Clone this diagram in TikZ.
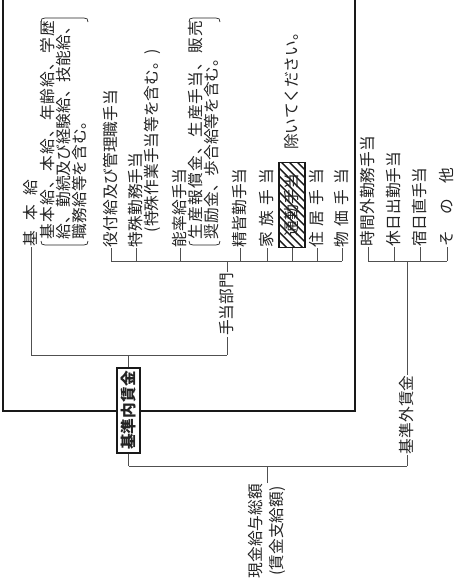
\documentclass[tikz,border=0pt]{standalone}
\usepackage{fontspec}
\setmainfont{Noto Sans CJK JP}
\newfontfamily\jpwide[LetterSpace=7.5]{Noto Sans CJK JP}
\usepackage{tikz}
\usetikzlibrary{calc}
\definecolor{wgLine}{RGB}{80,80,80}
\definecolor{wgText}{RGB}{35,35,35}
\definecolor{wgFrame}{RGB}{25,25,25}
\newcommand{\wgfont}{\fontsize{13.4pt}{16pt}\selectfont}

\begin{document}
\begin{tikzpicture}[x=0.03cm,y=-0.03cm,
  every node/.style={font=\wgfont, text=wgText, inner sep=0.6pt},
  item/.style={rotate=90, anchor=west},
  link/.style={wgLine, line width=0.7pt},
  paren/.style={wgText, line width=0.6pt}]
\useasboundingbox (0,0) rectangle (462,586);
\draw[wgFrame, line width=1.8pt] (3,-5) |- (355,411) -- (355,-5);
\coordinate (busIn) at (0,355);
\coordinate (busTe) at (0,261);
\coordinate (busOut) at (0,261);
\coordinate (busAll) at (0,466);

\node[item] (kihon) at (31,247) {基\hspace{0.62em}本\hspace{0.62em}給};
\node[item] (kihonA) at (48,240) {\jpwide 基本給、本給、年齢給、学歴};
\node[item] (kihonB) at (64,240) {給、勤続及び経験給、技能給、};
\node[item] (kihonC) at (80,240) {職務給等を含む。};
\draw[paren] (41,241) .. controls (41,244) and (42,245) .. (45,245) -- (84,245) .. controls (87,245) and (88,244) .. (88,241);
\draw[paren] (41,22) .. controls (41,19) and (42,18) .. (45,18) -- (84,18) .. controls (87,18) and (88,19) .. (88,22);

\node[item] (yaku) at (111,248) {役付給及び管理職手当};
\node[item] (toku) at (136,248) {特殊勤務手当};
\node[item] (tokuA) at (152,233) {(特殊作業手当等を含む。)};
\node[item] (nori) at (180,248) {能率給手当};
\node[item] (noriA) at (196,240) {\jpwide 生産報償金、生産手当、販売};
\node[item] (noriB) at (212,240) {奨励金、歩合給等を含む。};
\draw[paren] (189,241) .. controls (189,244) and (190,245) .. (193,245) -- (216,245) .. controls (219,245) and (220,244) .. (220,241);
\draw[paren] (189,22) .. controls (189,19) and (190,18) .. (193,18) -- (216,18) .. controls (219,18) and (220,19) .. (220,22);
\node[item] (seikai) at (240,248) {精皆勤手当};
\node[item] (kazoku) at (267,248) {家\hspace{.33em}族\hspace{.33em}手\hspace{.33em}当};
\node[item, draw=wgFrame, line width=1.1pt, minimum width=2.55cm, minimum height=0.78cm,
  path picture={\foreach \k in {-7,...,7}
    \draw[wgFrame, line width=1.3pt] ($(path picture bounding box.center)+(\k*8-40,40)$) -- ++(80,-80);}]
  (tsukin) at (292,248) {通勤手当};
\node[item] (nozoku) at ($(tsukin.east)+(0,-11)$) {除いてください。};
\node[item] (jukyo) at (317,248) {住\hspace{.33em}居\hspace{.33em}手\hspace{.33em}当};
\node[item] (bukka) at (342,248) {物\hspace{.33em}価\hspace{.33em}手\hspace{.33em}当};
\foreach \n in {yaku,toku,nori,seikai,kazoku,tsukin,jukyo,bukka}
  \draw[link] (\n.west) -- (\n.west |- busTe);
\draw[link] (yaku.west |- busTe) -- (bukka.west |- busTe);

\node[item, anchor=center] (teate) at (227,304.5) {手当部門};
\draw[link] (teate.east) -- (teate.east |- busTe);
\draw[link] (teate.west) -- (teate.west |- busIn);
\draw[link] (kihon.west) -- (kihon.west |- busIn) -- (teate.west |- busIn);

\node[item, anchor=center, draw=wgFrame, line width=0.9pt, fill=white, font=\wgfont\bfseries,
  minimum width=2.55cm, minimum height=0.69cm] (naikin) at (128.5,410.5) {基準内賃金};
\draw[link] (naikin.east) -- (naikin.east |- busIn);
\draw[link] (naikin.west) -- (naikin.west |- busAll);

\node[item] (jikan) at (368,247) {時間外勤務手当};
\node[item] (kyujitsu) at (394,247) {休日出勤手当};
\node[item] (shuku) at (420,247) {宿日直手当};
\node[item] (sonota) at (447,247) {そ\hspace{1em}の\hspace{1em}他};
\foreach \n in {jikan,kyujitsu,shuku,sonota}
  \draw[link] (\n.west) -- (\n.west |- busOut);
\draw[link] (jikan.west |- busOut) -- (sonota.west |- busOut);

\node[item] (gaikin) at (407,455) {基準外賃金};
\draw[link] (gaikin.east) -- (gaikin.east |- busOut);
\draw[link] (gaikin.west) -- (gaikin.west |- busAll);
\draw[link] (naikin.west |- busAll) -- (gaikin.west |- busAll);

\node[item, anchor=east, align=center, font=\fontsize{13.4pt}{18pt}\selectfont] (genkin) at (267,483) {現金給与総額\\(賃金支給額)};
\draw[link] (genkin.east) -- (genkin.east |- busAll);
\end{tikzpicture}
\end{document}
